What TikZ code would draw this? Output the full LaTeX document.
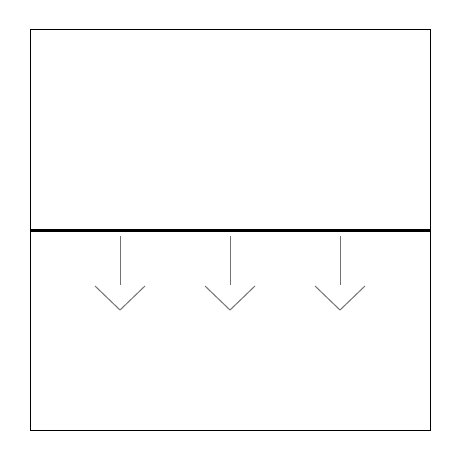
\documentclass[tikz,border=0pt]{standalone}
\begin{document}
\begin{tikzpicture}[x=1pt,y=-1pt,
  frame/.style={draw=black,line width=1pt},
  wall/.style={draw=black,line width=3pt},
  flowarrow/.style={draw=black!55,line width=1pt}]
\useasboundingbox (0,0) rectangle (460,460);
\draw[frame] (30,30) rectangle (430,430);
\coordinate (wl) at (30,230);
\coordinate (wr) at (430,230);
\draw[wall] (wl) -- (wr);
\foreach \x in {120,230,340}{
  \draw[flowarrow] (\x,236) -- (\x,285);
  \draw[flowarrow] (\x-25,286) -- (\x,310) -- (\x+25,286);
}
\end{tikzpicture}
\end{document}
